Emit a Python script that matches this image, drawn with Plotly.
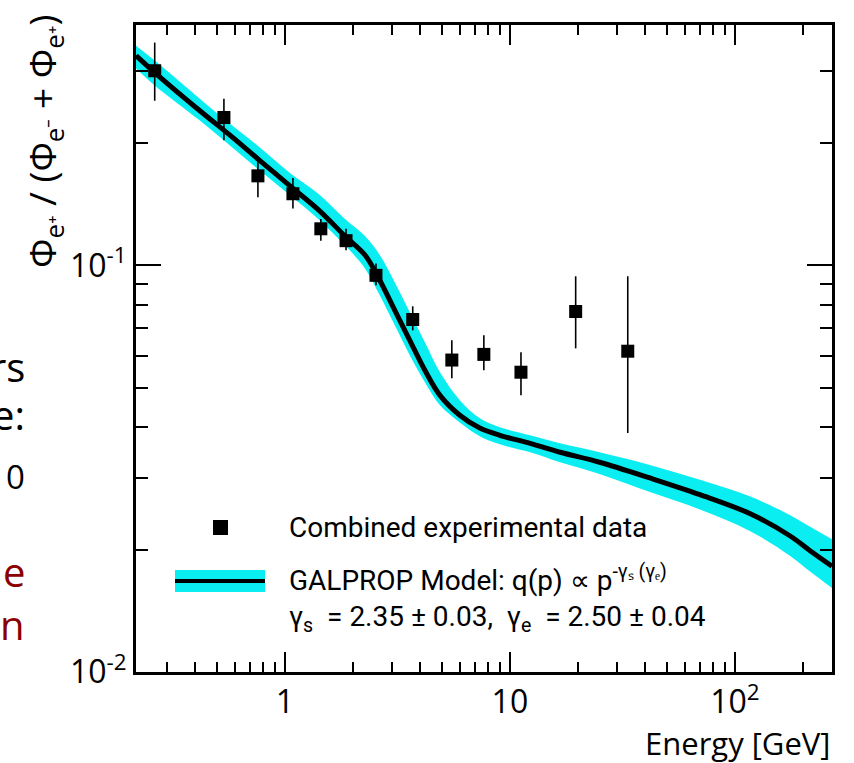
import math
import plotly.graph_objects as go

# ---------------- data ----------------
# GALPROP model curve and its uncertainty band
model_energy = [0.218, 0.264, 0.419, 0.570, 0.774, 1.05, 1.43, 1.85, 2.27, 2.64, 3.08, 3.59, 4.19,
                4.89, 5.99, 7.35, 9.02, 12.3, 16.7, 25.0, 41.9, 69.9, 117, 176, 215, 270]
model_ratio = [0.328, 0.298, 0.240, 0.209, 0.181, 0.157, 0.136, 0.118, 0.106, 0.0919, 0.0775, 0.0654,
               0.0552, 0.0479, 0.0428, 0.0398, 0.0382, 0.0365, 0.0347, 0.0328, 0.0300, 0.0273,
               0.0245, 0.0216, 0.0199, 0.0182]
band_upper = [0.347, 0.319, 0.257, 0.223, 0.195, 0.169, 0.149, 0.130, 0.118, 0.106, 0.0908, 0.0767,
              0.0647, 0.0546, 0.0466, 0.0421, 0.0400, 0.0382, 0.0365, 0.0347, 0.0323, 0.0297,
              0.0270, 0.0243, 0.0228, 0.0212]
band_lower = [0.305, 0.277, 0.227, 0.197, 0.171, 0.149, 0.129, 0.112, 0.0983, 0.0844, 0.0712, 0.0601,
              0.0516, 0.0453, 0.0411, 0.0380, 0.0363, 0.0347, 0.0328, 0.0307, 0.0277, 0.0251,
              0.0222, 0.0193, 0.0177, 0.0161]

# Combined experimental data
data_energy = [0.264, 0.536, 0.759, 1.086, 1.445, 1.87, 2.54, 3.70, 5.52, 7.66, 11.2, 19.6, 33.4]
data_ratio = [0.301, 0.231, 0.166, 0.150, 0.123, 0.115, 0.0945, 0.0736, 0.0585, 0.0604, 0.0546,
              0.0770, 0.0615]
data_high = [0.353, 0.257, 0.181, 0.164, 0.130, 0.123, 0.101, 0.0793, 0.0654, 0.0673, 0.0611,
             0.0940, 0.0940]
data_low = [0.254, 0.203, 0.147, 0.138, 0.115, 0.109, 0.0893, 0.0692, 0.0528, 0.0552, 0.0479,
            0.0625, 0.0387]

x_major = [1, 10, 100]
x_major_text = ["1", "10", "10<sup>2</sup>"]
x_minor = [0.3, 0.4, 0.5, 0.6, 0.7, 0.8, 0.9, 2, 3, 4, 5, 6, 7, 8, 9,
           20, 30, 40, 50, 60, 70, 80, 90, 200]
y_major = [0.01, 0.1]
y_major_text = ["10<sup>-2</sup>", "10<sup>-1</sup>"]
y_minor = [0.02, 0.03, 0.04, 0.05, 0.06, 0.07, 0.08, 0.09, 0.2, 0.3]

x_range = [0.218, 270]
y_range = [0.01, 0.39]

CYAN = "#0AEEF2"
FONT = "Open Sans"

err_plus = [h - v for h, v in zip(data_high, data_ratio)]
err_minus = [v - l for l, v in zip(data_low, data_ratio)]

fig = go.Figure()
fig.add_trace(go.Scatter(x=model_energy, y=band_lower, mode="lines", line=dict(width=0, color=CYAN),
                         line_shape="spline", showlegend=False, hoverinfo="skip"))
fig.add_trace(go.Scatter(x=model_energy, y=band_upper, mode="lines", line=dict(width=0, color=CYAN),
                         line_shape="spline", fill="tonexty", fillcolor=CYAN,
                         showlegend=False, hoverinfo="skip"))
fig.add_trace(go.Scatter(x=model_energy, y=model_ratio, mode="lines", line=dict(width=5, color="black"),
                         line_shape="spline", showlegend=False))
fig.add_trace(go.Scatter(x=data_energy, y=data_ratio, mode="markers",
                         marker=dict(symbol="square", size=13, color="black"),
                         error_y=dict(type="data", symmetric=False, array=err_plus, arrayminus=err_minus,
                                      color="black", thickness=1.6, width=0),
                         showlegend=False))

fig.update_xaxes(type="log", range=[math.log10(x_range[0]), math.log10(x_range[1])],
                 showline=True, linecolor="black", linewidth=3, mirror="allticks",
                 ticks="inside", ticklen=20, tickwidth=1.5, tickcolor="black",
                 tickmode="array", tickvals=x_major, ticktext=x_major_text,
                 tickfont=dict(family=FONT, size=32, color="black"),
                 minor=dict(ticks="inside", ticklen=10, tickwidth=1.5, tickcolor="black",
                            tickmode="array", tickvals=x_minor),
                 showgrid=False, zeroline=False)
fig.update_yaxes(type="log", range=[math.log10(y_range[0]), math.log10(y_range[1])],
                 showline=True, linecolor="black", linewidth=3, mirror="allticks",
                 ticks="inside", ticklen=25, tickwidth=1.5, tickcolor="black",
                 tickmode="array", tickvals=y_major, ticktext=y_major_text,
                 tickfont=dict(family=FONT, size=32, color="black"),
                 minor=dict(ticks="inside", ticklen=12, tickwidth=1.5, tickcolor="black",
                            tickmode="array", tickvals=y_minor),
                 showgrid=False, zeroline=False)

W, H = 854, 763
L, R, T, B = 136, 22, 25, 91
pw, ph = W - L - R, H - T - B


def px(x):
    return (x - L) / pw


def py(y):
    return (H - B - y) / ph


ann = []
ann.append(dict(text="Φ<sub>e⁺</sub> / (Φ<sub>e⁻</sub> + Φ<sub>e⁺</sub>)", x=px(44), y=py(142),
                xref="paper", yref="paper", textangle=-90, showarrow=False,
                font=dict(family=FONT, size=37, color="black"), xanchor="center", yanchor="middle"))
ann.append(dict(text="Energy [GeV]", x=1.0, y=py(743), xref="paper", yref="paper", showarrow=False,
                font=dict(family=FONT, size=31, color="black"), xanchor="right", yanchor="middle"))
leg_font = dict(family="Roboto", size=28, color="black")
ann.append(dict(text="Combined experimental data", x=px(287), y=py(527), xref="paper", yref="paper",
                showarrow=False, font=leg_font, xanchor="left", yanchor="middle"))
ann.append(dict(text="GALPROP Model: q(p) ∝ p<sup>-γₛ (γₑ)</sup>", x=px(287), y=py(578),
                xref="paper", yref="paper", showarrow=False, font=leg_font, xanchor="left",
                yanchor="middle"))
ann.append(dict(text="γ<sub>s</sub>  = 2.35 ± 0.03,  γ<sub>e</sub>  = 2.50 ± 0.04", x=px(287), y=py(618),
                xref="paper", yref="paper", showarrow=False, font=leg_font, xanchor="left",
                yanchor="middle"))
# cut-off slide text at the far left
side_font = dict(family="Open Sans", size=40, color="black")
red_font = dict(family="Open Sans", size=40, color="#8B0000")
for txt, yy, f in [("rs", 366, side_font), ("e:", 414, side_font),
                   ("0", 476, dict(family="Open Sans", size=33, color="black")),
                   ("e", 571, red_font), ("n", 624, red_font)]:
    ann.append(dict(text=txt, x=px(27), y=py(yy), xref="paper", yref="paper", showarrow=False,
                    font=f, xanchor="right", yanchor="middle"))

shapes = []
shapes.append(dict(type="rect", xref="paper", yref="paper", x0=px(175), x1=px(265), y0=py(592), y1=py(570),
                   fillcolor=CYAN, line=dict(width=0)))
shapes.append(dict(type="line", xref="paper", yref="paper", x0=px(175), x1=px(265), y0=py(581), y1=py(581),
                   line=dict(width=4, color="black")))
shapes.append(dict(type="rect", xref="paper", yref="paper", x0=px(213), x1=px(228), y0=py(535), y1=py(520),
                   fillcolor="black", line=dict(width=0)))

fig.update_layout(width=W, height=H, margin=dict(l=L, r=R, t=T, b=B),
                  plot_bgcolor="white", paper_bgcolor="white",
                  annotations=ann, shapes=shapes, showlegend=False)

fig.write_html("out.html")
